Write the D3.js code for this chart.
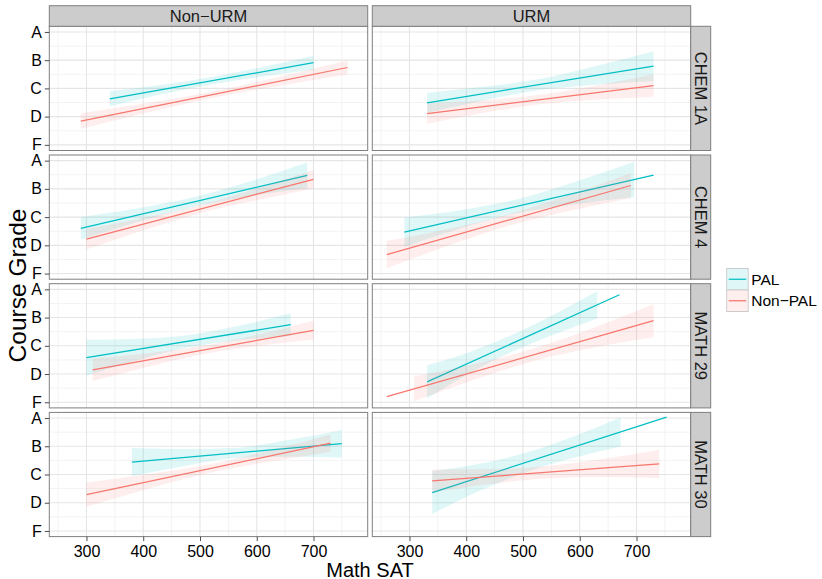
<!DOCTYPE html>
<html>
<head>
<meta charset="utf-8">
<script src="https://cdn.jsdelivr.net/npm/d3@7"></script>
<style>
  html, body { margin: 0; padding: 0; background: #fff; }
  text { font-family: "Liberation Sans", Arial, Helvetica, sans-serif; }
</style>
</head>
<body>
<script>
// Facet categories
const courses = ["CHEM 1A", "CHEM 4", "MATH 29", "MATH 30"];
const groups = ["Non\u2212URM", "URM"];
const programs = ["PAL", "Non\u2212PAL"];
const programColors = ["#00BFC4", "#F8766D"];

// Axis ticks
const gradeTicks = [0, 1, 2, 3, 4];
const gradeLabels = ["F", "D", "C", "B", "A"];
const satTicks = [300, 400, 500, 600, 700];
const satMinor = [250, 350, 450, 550, 650, 750];
const gradeMinor = [0.5, 1.5, 2.5, 3.5];

// Fitted lines: [course, group, program, satStart, gradeStart, satEnd, gradeEnd]
const fitLines = [
  [0, 0, 0, 341, 1.63, 700, 2.91],
  [0, 0, 1, 290, 0.84, 760, 2.74],
  [0, 1, 0, 331, 1.49, 730, 2.79],
  [0, 1, 1, 331, 1.11, 730, 2.10],
  [1, 0, 0, 290, 1.60, 689, 3.48],
  [1, 0, 1, 300, 1.22, 700, 3.34],
  [1, 1, 0, 291, 1.47, 730, 3.49],
  [1, 1, 1, 260, 0.67, 690, 3.12],
  [2, 0, 0, 300, 1.58, 660, 2.75],
  [2, 0, 1, 311, 1.15, 700, 2.55],
  [2, 1, 0, 331, 0.72, 670, 3.81],
  [2, 1, 1, 260, 0.20, 730, 2.89],
  [3, 0, 0, 380, 2.44, 750, 3.09],
  [3, 0, 1, 300, 1.29, 730, 3.11],
  [3, 1, 0, 340, 1.36, 753, 4.03],
  [3, 1, 1, 340, 1.77, 740, 2.38]
];

// Confidence bands: [satFrom, satTo, half-widths at five evenly spaced SAT points]
// (same row order as fitLines)
const bands = [
  [341, 700, [0.27, 0.17, 0.13, 0.17, 0.25]],
  [290, 760, [0.28, 0.17, 0.11, 0.16, 0.25]],
  [331, 730, [0.36, 0.24, 0.20, 0.34, 0.53]],
  [331, 730, [0.36, 0.22, 0.17, 0.25, 0.40]],
  [290, 689, [0.40, 0.24, 0.17, 0.26, 0.45]],
  [300, 700, [0.37, 0.22, 0.14, 0.21, 0.33]],
  [291, 696, [0.52, 0.32, 0.25, 0.40, 0.63]],
  [260, 690, [0.48, 0.30, 0.20, 0.28, 0.44]],
  [300, 660, [0.63, 0.38, 0.22, 0.26, 0.40]],
  [311, 700, [0.40, 0.24, 0.15, 0.20, 0.34]],
  [331, 631, [0.59, 0.38, 0.30, 0.36, 0.49]],
  [308, 730, [0.44, 0.28, 0.22, 0.35, 0.59]],
  [380, 750, [0.50, 0.30, 0.18, 0.30, 0.49]],
  [300, 730, [0.43, 0.26, 0.15, 0.20, 0.31]],
  [340, 672, [0.76, 0.48, 0.35, 0.38, 0.51]],
  [340, 740, [0.41, 0.27, 0.22, 0.32, 0.50]]
];

// Layout
const W = 822, H = 579;
const plotLeft = 49.3, plotTop = 26.3;
const panelW = 318.4, panelH = 124.2;
const colGap = 4.6, rowGap = 4.5;
const stripH = 20.6, stripW = 20;

const svg = d3.select("body").append("svg")
  .attr("width", W).attr("height", H)
  .style("display", "block");

svg.append("rect").attr("width", W).attr("height", H).attr("fill", "#fff");

const x = d3.scaleLinear().domain([234.5, 795.5]).range([0, panelW]);
const y = d3.scaleLinear().domain([-0.2, 4.2]).range([panelH, 0]);

const panelX = c => plotLeft + c * (panelW + colGap);
const panelY = r => plotTop + r * (panelH + rowGap);

const defs = svg.append("defs");
defs.append("clipPath").attr("id", "panel-clip")
  .append("rect").attr("width", panelW).attr("height", panelH);

const lineAt = (row, s) => row[4] + (s - row[3]) / (row[5] - row[3]) * (row[6] - row[4]);

courses.forEach((course, r) => {
  groups.forEach((grp, c) => {
    const g = svg.append("g").attr("transform", `translate(${panelX(c)},${panelY(r)})`);
    g.append("rect").attr("width", panelW).attr("height", panelH).attr("fill", "#fff");

    const grid = g.append("g");
    grid.selectAll(".vminor").data(satMinor).join("line")
      .attr("x1", d => x(d)).attr("x2", d => x(d)).attr("y1", 0).attr("y2", panelH)
      .attr("stroke", "#F3F3F3").attr("stroke-width", 1);
    grid.selectAll(".hminor").data(gradeMinor).join("line")
      .attr("y1", d => y(d)).attr("y2", d => y(d)).attr("x1", 0).attr("x2", panelW)
      .attr("stroke", "#F3F3F3").attr("stroke-width", 1);
    grid.selectAll(".vmajor").data(satTicks).join("line")
      .attr("x1", d => x(d)).attr("x2", d => x(d)).attr("y1", 0).attr("y2", panelH)
      .attr("stroke", "#E5E5E5").attr("stroke-width", 1.1);
    grid.selectAll(".hmajor").data(gradeTicks).join("line")
      .attr("y1", d => y(d)).attr("y2", d => y(d)).attr("x1", 0).attr("x2", panelW)
      .attr("stroke", "#E5E5E5").attr("stroke-width", 1.1);

    const marks = g.append("g").attr("clip-path", "url(#panel-clip)");
    fitLines.forEach((row, i) => {
      if (row[0] !== r || row[1] !== c) return;
      const col = programColors[row[2]];
      const [s0, s1, hw] = bands[i];
      const pts = hw.map((h, k) => {
        const s = s0 + (s1 - s0) * k / (hw.length - 1);
        const m = lineAt(row, s);
        return { s, lo: m - h, hi: m + h };
      });
      marks.append("path").datum(pts)
        .attr("d", d3.area().curve(d3.curveMonotoneX)
          .x(d => x(d.s)).y0(d => y(d.lo)).y1(d => y(d.hi)))
        .attr("fill", col).attr("fill-opacity", 0.12).attr("stroke", "none");
      marks.append("path").datum([[row[3], row[4]], [row[5], row[6]]])
        .attr("d", d3.line().x(d => x(d[0])).y(d => y(d[1])))
        .attr("fill", "none").attr("stroke", col).attr("stroke-width", 1.25);
    });

    g.append("rect").attr("width", panelW).attr("height", panelH)
      .attr("fill", "none").attr("stroke", "#7F7F7F").attr("stroke-width", 1);

    // Left axis
    if (c === 0) {
      const ax = g.append("g").call(d3.axisLeft(y).tickValues(gradeTicks)
        .tickFormat(d => gradeLabels[d]).tickSize(4.5).tickPadding(3));
      ax.select(".domain").remove();
      ax.selectAll(".tick line").attr("stroke", "#4D4D4D").attr("stroke-width", 1);
      ax.selectAll(".tick text").attr("fill", "#000").attr("font-size", 16)
        .attr("font-family", "Liberation Sans, Arial, sans-serif");
    }
    // Bottom axis
    if (r === courses.length - 1) {
      const ax = g.append("g").attr("transform", `translate(0,${panelH})`)
        .call(d3.axisBottom(x).tickValues(satTicks).tickSize(4.5).tickPadding(5));
      ax.select(".domain").remove();
      ax.selectAll(".tick line").attr("stroke", "#4D4D4D").attr("stroke-width", 1);
      ax.selectAll(".tick text").attr("fill", "#000").attr("font-size", 16)
        .attr("font-family", "Liberation Sans, Arial, sans-serif");
    }
  });
});

// Column strips
groups.forEach((grp, c) => {
  const g = svg.append("g").attr("transform", `translate(${panelX(c)},${plotTop - stripH})`);
  g.append("rect").attr("width", panelW).attr("height", stripH)
    .attr("fill", "#CCCCCC").attr("stroke", "#7F7F7F").attr("stroke-width", 1);
  g.append("text").attr("x", panelW / 2).attr("y", stripH / 2)
    .attr("text-anchor", "middle").attr("dominant-baseline", "central")
    .attr("font-size", 16.5).attr("fill", "#1A1A1A").text(grp);
});

// Row strips
courses.forEach((course, r) => {
  const g = svg.append("g").attr("transform", `translate(${panelX(1) + panelW},${panelY(r)})`);
  g.append("rect").attr("width", stripW).attr("height", panelH)
    .attr("fill", "#CCCCCC").attr("stroke", "#7F7F7F").attr("stroke-width", 1);
  g.append("text")
    .attr("transform", `translate(${stripW / 2},${panelH / 2}) rotate(90)`)
    .attr("text-anchor", "middle").attr("dominant-baseline", "central")
    .attr("font-size", 16.5).attr("fill", "#1A1A1A").text(course);
});

// Axis titles
const plotRight = panelX(1) + panelW;
const plotBottom = panelY(courses.length - 1) + panelH;
svg.append("text").attr("x", (plotLeft + plotRight) / 2).attr("y", 576.5)
  .attr("text-anchor", "middle").attr("font-size", 20).attr("fill", "#000").text("Math SAT");
svg.append("text")
  .attr("transform", `translate(25.5,${(plotTop + plotBottom) / 2 + 4}) rotate(-90)`)
  .attr("text-anchor", "middle").attr("font-size", 24.5).attr("fill", "#000").text("Course Grade");

// Legend
const legend = svg.append("g").attr("transform", "translate(726.7,268.5)");
const keySize = 21.5;
programs.forEach((p, i) => {
  const k = legend.append("g").attr("transform", `translate(0,${i * keySize})`);
  k.append("rect").attr("width", keySize).attr("height", keySize)
    .attr("fill", "#fff").attr("stroke", "#CCCCCC").attr("stroke-width", 1);
  k.append("rect").attr("x", 0.5).attr("y", 0.5).attr("width", keySize - 1).attr("height", keySize - 1)
    .attr("fill", programColors[i]).attr("fill-opacity", 0.12);
  k.append("line").attr("x1", 2).attr("x2", keySize - 2)
    .attr("y1", keySize / 2).attr("y2", keySize / 2)
    .attr("stroke", programColors[i]).attr("stroke-width", 1.25);
  k.append("text").attr("x", keySize + 3).attr("y", keySize / 2)
    .attr("dominant-baseline", "central").attr("font-size", 15.5).attr("fill", "#000").text(p);
});
</script>
</body>
</html>
